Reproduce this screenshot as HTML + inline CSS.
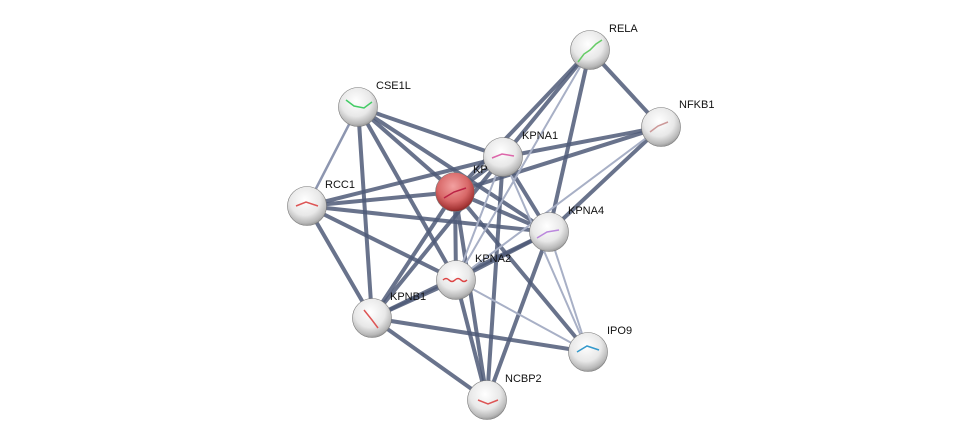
<!DOCTYPE html>
<html><head><meta charset="utf-8"><style>
html,body{margin:0;padding:0;background:#fff;}
svg{display:block}
text{font-family:"Liberation Sans",sans-serif;font-size:11px;fill:#111}
</style></head><body>
<svg width="975" height="445" viewBox="0 0 975 445">
<defs>
<radialGradient id="g" cx="45%" cy="35%" r="65%">
<stop offset="0" stop-color="#ffffff"/><stop offset="0.6" stop-color="#e8e8e8"/><stop offset="0.9" stop-color="#b8b8b8"/><stop offset="1" stop-color="#999"/>
</radialGradient>
<radialGradient id="r" cx="45%" cy="35%" r="65%">
<stop offset="0" stop-color="#f2a0a0"/><stop offset="0.6" stop-color="#d86868"/><stop offset="0.9" stop-color="#a83838"/><stop offset="1" stop-color="#882828"/>
</radialGradient>
</defs>
<g stroke="#4f5a78" stroke-width="4" stroke-opacity="0.85" stroke-linecap="round">
<line x1="590" y1="50" x2="661" y2="127"/>
<line x1="590" y1="50" x2="503" y2="157"/>
<line x1="590" y1="50" x2="455" y2="192"/>
<line x1="590" y1="50" x2="549" y2="232"/>
<line x1="661" y1="127" x2="503" y2="157"/>
<line x1="661" y1="127" x2="455" y2="192"/>
<line x1="661" y1="127" x2="549" y2="232"/>
<line x1="661" y1="127" x2="307" y2="206" stroke-opacity="0"/>
<line x1="358" y1="107" x2="372" y2="318"/>
<line x1="358" y1="107" x2="456" y2="280"/>
<line x1="358" y1="107" x2="455" y2="192"/>
<line x1="358" y1="107" x2="503" y2="157"/>
<line x1="358" y1="107" x2="549" y2="232"/>
<line x1="307" y1="206" x2="503" y2="157"/>
<line x1="307" y1="206" x2="455" y2="192"/>
<line x1="307" y1="206" x2="549" y2="232"/>
<line x1="307" y1="206" x2="456" y2="280"/>
<line x1="307" y1="206" x2="372" y2="318"/>
<line x1="503" y1="157" x2="455" y2="192"/>
<line x1="503" y1="157" x2="549" y2="232"/>
<line x1="503" y1="157" x2="487" y2="400"/>
<line x1="503" y1="157" x2="372" y2="318"/>
<line x1="455" y1="192" x2="549" y2="232"/>
<line x1="455" y1="192" x2="456" y2="280"/>
<line x1="455" y1="192" x2="372" y2="318"/>
<line x1="455" y1="192" x2="487" y2="400"/>
<line x1="455" y1="192" x2="588" y2="352"/>
<line x1="549" y1="232" x2="456" y2="280"/>
<line x1="549" y1="232" x2="372" y2="318"/>
<line x1="549" y1="232" x2="487" y2="400"/>
<line x1="456" y1="280" x2="372" y2="318"/>
<line x1="456" y1="280" x2="487" y2="400"/>
<line x1="372" y1="318" x2="588" y2="352"/>
<line x1="372" y1="318" x2="487" y2="400"/>
</g>
<g stroke="#a8b0c6" stroke-width="2" stroke-linecap="round">
<line x1="590" y1="50" x2="456" y2="280"/>
<line x1="661" y1="127" x2="456" y2="280"/>
<line x1="358" y1="107" x2="307" y2="206" stroke-width="2.5" stroke="#8d96b0"/>
<line x1="503" y1="157" x2="588" y2="352"/>
<line x1="503" y1="157" x2="456" y2="280"/>
<line x1="549" y1="232" x2="588" y2="352"/>
<line x1="456" y1="280" x2="588" y2="352"/>
</g>
<g stroke="#777" stroke-width="0.6">
<circle cx="590" cy="50" r="19.5" fill="url(#g)"/>
<circle cx="661" cy="127" r="19.5" fill="url(#g)"/>
<circle cx="358" cy="107" r="19.5" fill="url(#g)"/>
<circle cx="503" cy="157" r="19.5" fill="url(#g)"/>
<circle cx="307" cy="206" r="19.5" fill="url(#g)"/>
<circle cx="549" cy="232" r="19.5" fill="url(#g)"/>
<circle cx="456" cy="280" r="19.5" fill="url(#g)"/>
<circle cx="372" cy="318" r="19.5" fill="url(#g)"/>
<circle cx="588" cy="352" r="19.5" fill="url(#g)"/>
<circle cx="487" cy="400" r="19.5" fill="url(#g)"/>
<circle cx="455" cy="192" r="19.5" fill="url(#r)"/>
</g>
<g fill="none" stroke-width="1.5">
<path d="M578 62 l6-8 l6-4 l6-6 l6-4" stroke="#6c6"/>
<path d="M650 132 l8-6 l10-4" stroke="#c99"/>
<path d="M346 100 l8 6 l10 2 l8-6" stroke="#4c6"/>
<path d="M492 158 l10-4 l12 2" stroke="#d6a"/>
<path d="M296 206 l10-4 l12 4" stroke="#d55"/>
<path d="M537 238 l10-6 l12-2" stroke="#b8d"/>
<path d="M443 280 q3-3 6 0 t6 0 t6 0 t6 0" stroke="#d44"/>
<path d="M364 310 l8 10 l6 8" stroke="#d55"/>
<path d="M577 352 l10-6 l12 4" stroke="#39c"/>
<path d="M478 400 l10 4 l10-4" stroke="#d55"/>
<path d="M444 198 l10-6 l12-4" stroke="#b24"/>
</g>
<text x="609" y="32">RELA</text>
<text x="679" y="108">NFKB1</text>
<text x="376" y="89">CSE1L</text>
<text x="522" y="139">KPNA1</text>
<text x="473" y="173">KP</text>
<text x="325" y="188">RCC1</text>
<text x="568" y="214">KPNA4</text>
<text x="475" y="262">KPNA2</text>
<text x="390" y="300">KPNB1</text>
<text x="607" y="334">IPO9</text>
<text x="505" y="382">NCBP2</text>
</svg>
</body></html>
